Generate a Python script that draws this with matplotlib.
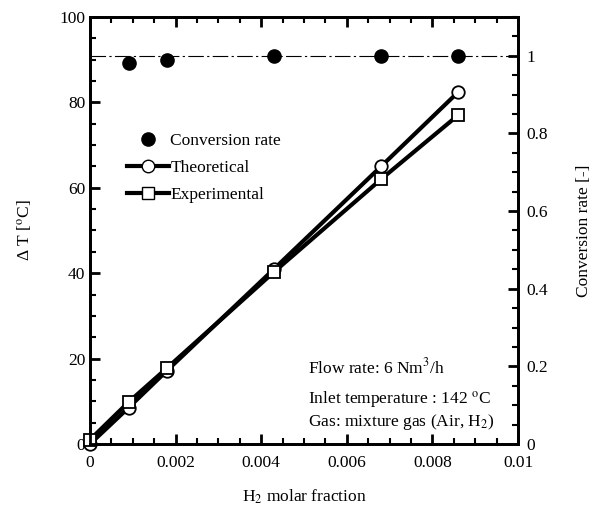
import numpy as np
import matplotlib
matplotlib.use("Agg")
import matplotlib.pyplot as plt
from matplotlib.ticker import MultipleLocator, FixedLocator
from matplotlib.lines import Line2D

plt.rcParams["font.family"] = ["Liberation Serif", "DejaVu Serif"]
plt.rcParams["mathtext.fontset"] = "stix"

# data
h2_frac = [0.0, 0.0009, 0.0018, 0.0043, 0.0068, 0.0086]
dt_theoretical = [0.0, 8.5, 17.2, 41.0, 65.0, 82.4]
dt_experimental = [1.0, 9.8, 17.8, 40.3, 62.0, 77.0]

conv_x = [0.0009, 0.0018, 0.0043, 0.0068, 0.0086]
conv_rate = [0.982, 0.990, 1.0, 1.0, 1.0]

x_ticks = [0, 0.002, 0.004, 0.006, 0.008, 0.01]
x_ticklabels = ["0", "0.002", "0.004", "0.006", "0.008", "0.01"]
r_ticks = [0, 0.2, 0.4, 0.6, 0.8, 1.0]
r_ticklabels = ["0", "0.2", "0.4", "0.6", "0.8", "1"]

fs = 12.5

fig = plt.figure(figsize=(6.04, 5.09), dpi=100)
ax = fig.add_axes([90 / 604, 1 - 444 / 509, 428 / 604, 427 / 509])
ax2 = ax.twinx()

ax.plot(h2_frac, dt_theoretical, "-o", color="black", lw=3,
        mfc="white", mec="black", mew=1.3, ms=9, zorder=4, clip_on=False)
ax.plot(h2_frac, dt_experimental, "-s", color="black", lw=3,
        mfc="white", mec="black", mew=1.3, ms=9, zorder=5, clip_on=False)

ax2.axhline(1.0, color="black", lw=0.8, ls=(0, (14, 3, 2, 3)), zorder=1)
ax2.plot(conv_x, conv_rate, "o", color="black", ms=9.5, zorder=6)

ax.set_xlim(0, 0.01)
ax.set_ylim(0, 100)
ax2.set_ylim(0, 1.1)

ax.xaxis.set_major_locator(FixedLocator(x_ticks))
ax.xaxis.set_minor_locator(MultipleLocator(0.0005))
ax.yaxis.set_major_locator(MultipleLocator(20))
ax.yaxis.set_minor_locator(MultipleLocator(5))
ax2.yaxis.set_major_locator(FixedLocator(r_ticks))
ax2.yaxis.set_minor_locator(MultipleLocator(0.05))

ax.set_xticklabels(x_ticklabels)
ax2.set_yticklabels(r_ticklabels)

for a in (ax, ax2):
    a.tick_params(which="major", direction="in", length=7, width=2, labelsize=fs)
    a.tick_params(which="minor", direction="in", length=4, width=1.5)
    for s in a.spines.values():
        s.set_linewidth(2)
ax.tick_params(which="both", top=True, right=False)
ax.tick_params(axis="x", pad=8)
ax2.tick_params(axis="y", pad=6)

ax.set_xlabel("H$_2$ molar fraction", fontsize=fs, labelpad=12)
ax.set_ylabel("Δ T [$^{\\rm o}$C]", fontsize=fs, labelpad=18)
ax2.set_ylabel("Conversion rate [-]", fontsize=fs, labelpad=20)

handles = [
    Line2D([], [], ls="none", marker="o", color="black", ms=9.5),
    Line2D([], [], color="black", lw=3, marker="o", mfc="white", mec="black", ms=9),
    Line2D([], [], color="black", lw=3, marker="s", mfc="white", mec="black", ms=9),
]
ax.legend(handles, ["Conversion rate", "Theoretical", "Experimental"],
          loc="upper left", bbox_to_anchor=(0.05, 0.765), frameon=False,
          fontsize=fs, handlelength=2.4, handletextpad=0.1, labelspacing=0.62)

ax.text(0.0051, 18.0, "Flow rate: 6 Nm$^3$/h", fontsize=fs, va="center")
ax.text(0.0051, 10.5, "Inlet temperature : 142 $^{\\rm o}$C", fontsize=fs, va="center")
ax.text(0.0051, 5.2, "Gas: mixture gas (Air, H$_2$)", fontsize=fs, va="center")

fig.savefig("out.png", dpi=100)
